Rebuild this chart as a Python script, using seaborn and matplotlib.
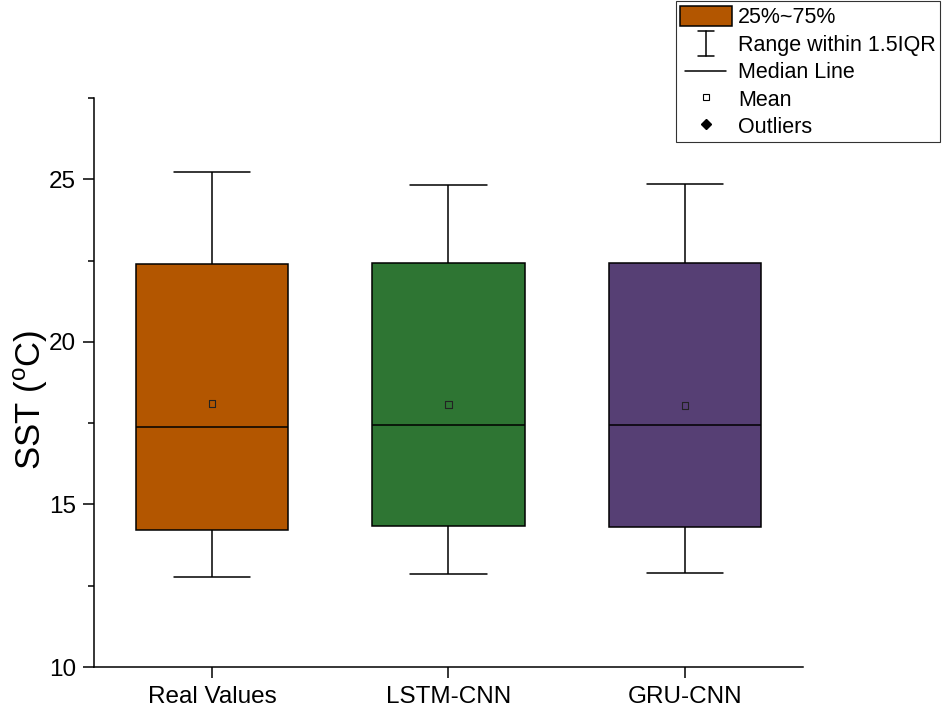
import matplotlib
matplotlib.use("Agg")
import matplotlib.pyplot as plt
from matplotlib.legend_handler import HandlerBase
from matplotlib.lines import Line2D
from matplotlib.patches import Patch
from matplotlib.ticker import MultipleLocator
import pandas as pd
import seaborn as sns

# five-number summaries (low whisker, Q1, median, Q3, high whisker)
models = ["Real Values", "LSTM-CNN", "GRU-CNN"]
real_values = [12.77, 14.22, 17.39, 22.38, 25.21]
lstm_cnn = [12.86, 14.34, 17.45, 22.41, 24.81]
gru_cnn = [12.89, 14.31, 17.45, 22.41, 24.84]
means = [18.10, 18.07, 18.04]
colors = ["#B35600", "#2E7533", "#563F74"]

rows = []
for name, vals in zip(models, [real_values, lstm_cnn, gru_cnn]):
    for v in vals:
        rows.append({"model": name, "sst": v})
df = pd.DataFrame(rows)


class RangeHandle:
    pass


class MedianHandle:
    pass


class RangeHandler(HandlerBase):
    # draws the "I" shaped whisker symbol
    def create_artists(self, legend, orig_handle, xdescent, ydescent, width, height, fontsize, trans):
        cx = width / 2 - xdescent
        y0 = -ydescent - 0.1 * height
        y1 = height - ydescent + 0.1 * height
        cap = 0.15 * width
        kw = dict(color="black", linewidth=1.1, transform=trans)
        return [Line2D([cx, cx], [y0, y1], **kw),
                Line2D([cx - cap, cx + cap], [y0, y0], **kw),
                Line2D([cx - cap, cx + cap], [y1, y1], **kw)]


class MedianHandler(HandlerBase):
    def create_artists(self, legend, orig_handle, xdescent, ydescent, width, height, fontsize, trans):
        cy = height / 2 - ydescent
        x0 = -xdescent + 0.1 * width
        x1 = width - xdescent - 0.1 * width
        return [Line2D([x0, x1], [cy, cy], color="black", linewidth=1.1, transform=trans)]


sns.set_style("ticks")
plt.rcParams["font.family"] = ["Liberation Sans", "DejaVu Sans"]
plt.rcParams["mathtext.fontset"] = "custom"
plt.rcParams["mathtext.rm"] = "Liberation Sans"
plt.rcParams["text.color"] = "black"
plt.rcParams["axes.labelcolor"] = "black"
plt.rcParams["xtick.color"] = "black"
plt.rcParams["ytick.color"] = "black"

fig = plt.figure(figsize=(9.43, 7.13), dpi=100)
ax = fig.add_axes([0.0997, 0.0645, 0.7518, 0.7981])

sns.boxplot(data=df, x="model", y="sst", hue="model", palette=colors, legend=False,
            width=0.645, whis=(0, 100), showfliers=False, saturation=1,
            linecolor="black", linewidth=1.1, ax=ax,
            medianprops={"color": "black", "linewidth": 1.1})

sns.scatterplot(x=models, y=means, marker="s", s=22, facecolors="none",
                edgecolor="#222222", linewidth=0.8, ax=ax, zorder=5)

ax.set_ylim(10, 27.5)
ax.set_xlim(-0.5, 2.5)
ax.yaxis.set_major_locator(MultipleLocator(5))
ax.yaxis.set_minor_locator(MultipleLocator(2.5))
ax.tick_params(axis="both", which="major", length=8, width=1.1, labelsize=17.5,
               color="black", labelcolor="black")
ax.tick_params(axis="y", which="minor", length=4.5, width=1.1, color="black")
ax.tick_params(axis="x", pad=6)
ax.tick_params(axis="y", pad=5)
ax.set_xlabel("")
ax.set_ylabel(r"SST ($^{\mathrm{o}}$C)", fontsize=25, color="black")
ax.yaxis.set_label_coords(-0.062, 0.47)
sns.despine(ax=ax)
for s in ["left", "bottom"]:
    ax.spines[s].set_linewidth(1.1)
    ax.spines[s].set_color("black")

# legend
handles = [
    Patch(facecolor=colors[0], edgecolor="black", linewidth=1.1),
    RangeHandle(),
    MedianHandle(),
    Line2D([], [], marker="s", linestyle="none", markersize=5, markerfacecolor="white",
           markeredgecolor="black", markeredgewidth=0.8),
    Line2D([], [], marker="D", linestyle="none", markersize=5, color="black"),
]
labels = ["25%~75%", "Range within 1.5IQR", "Median Line", "Mean", "Outliers"]
leg = fig.legend(handles, labels, loc="upper right", bbox_to_anchor=(0.997, 0.998),
                 fontsize=15.5, frameon=True, fancybox=False, edgecolor="black",
                 borderpad=0.2, labelspacing=0.22, handlelength=2.4, handleheight=1.1,
                 handletextpad=0.3, borderaxespad=0,
                 handler_map={RangeHandle: RangeHandler(), MedianHandle: MedianHandler()})
leg.get_frame().set_linewidth(0.8)

fig.savefig("out.png", dpi=100)
